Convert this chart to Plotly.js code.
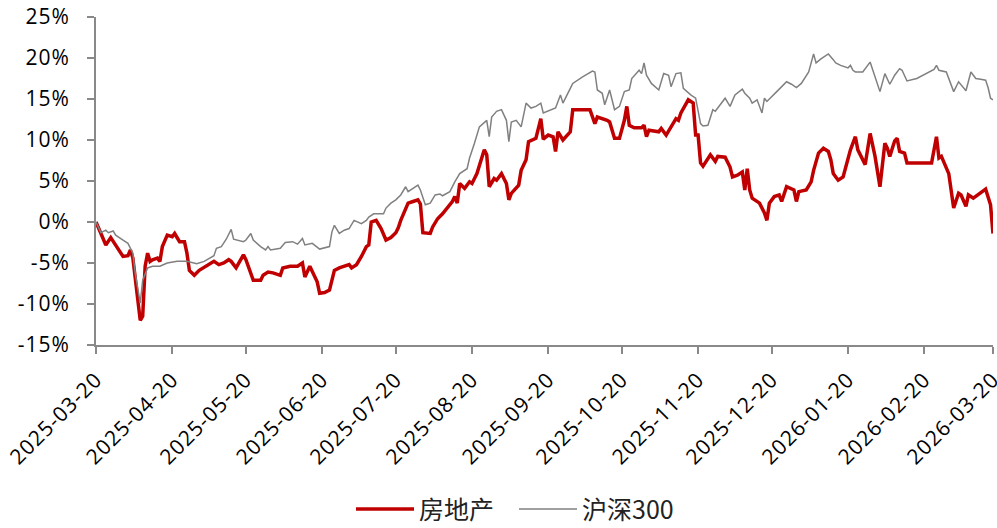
<!DOCTYPE html>
<html>
<head>
<meta charset="utf-8">
<script src="https://cdn.plot.ly/plotly-3.0.1.min.js"></script>
<style>
html,body{margin:0;padding:0;background:#fff;}
#chart{width:997px;height:528px;}
.xtick text, .ytick text {letter-spacing: 1px;}
</style>
</head>
<body>
<div id="chart"></div>
<script>
const seriesNames = ['房地产', '沪深300'];

const fdcDates = ['2025-03-20','2025-03-22','2025-03-24','2025-03-26','2025-03-28','2025-03-31','2025-04-02','2025-04-03','2025-04-04','2025-04-05','2025-04-07','2025-04-08','2025-04-09','2025-04-10','2025-04-11','2025-04-12','2025-04-14','2025-04-15','2025-04-16','2025-04-18','2025-04-20','2025-04-21','2025-04-22','2025-04-23','2025-04-25','2025-04-26','2025-04-27','2025-04-29','2025-05-01','2025-05-05','2025-05-07','2025-05-09','2025-05-11','2025-05-13','2025-05-14','2025-05-16','2025-05-18','2025-05-19','2025-05-20','2025-05-22','2025-05-23','2025-05-26','2025-05-27','2025-05-29','2025-05-31','2025-06-03','2025-06-04','2025-06-07','2025-06-10','2025-06-12','2025-06-13','2025-06-15','2025-06-16','2025-06-18','2025-06-19','2025-06-21','2025-06-23','2025-06-25','2025-06-27','2025-06-29','2025-07-01','2025-07-02','2025-07-04','2025-07-06','2025-07-08','2025-07-09','2025-07-10','2025-07-12','2025-07-14','2025-07-16','2025-07-18','2025-07-20','2025-07-21','2025-07-22','2025-07-24','2025-07-25','2025-07-27','2025-07-29','2025-07-30','2025-07-31','2025-08-03','2025-08-04','2025-08-06','2025-08-08','2025-08-12','2025-08-13','2025-08-14','2025-08-15','2025-08-17','2025-08-19','2025-08-20','2025-08-22','2025-08-25','2025-08-26','2025-08-27','2025-08-29','2025-08-30','2025-09-01','2025-09-03','2025-09-04','2025-09-05','2025-09-08','2025-09-09','2025-09-11','2025-09-12','2025-09-15','2025-09-17','2025-09-18','2025-09-20','2025-09-22','2025-09-23','2025-09-24','2025-09-26','2025-09-29','2025-09-30','2025-10-07','2025-10-09','2025-10-10','2025-10-14','2025-10-15','2025-10-17','2025-10-19','2025-10-21','2025-10-22','2025-10-23','2025-10-25','2025-10-28','2025-10-29','2025-10-30','2025-10-31','2025-11-04','2025-11-05','2025-11-07','2025-11-09','2025-11-11','2025-11-12','2025-11-13','2025-11-16','2025-11-18','2025-11-19','2025-11-20','2025-11-21','2025-11-22','2025-11-25','2025-11-26','2025-11-27','2025-11-28','2025-12-01','2025-12-03','2025-12-04','2025-12-06','2025-12-08','2025-12-09','2025-12-10','2025-12-11','2025-12-12','2025-12-15','2025-12-17','2025-12-18','2025-12-19','2025-12-21','2025-12-23','2025-12-24','2025-12-26','2025-12-29','2025-12-30','2025-12-31','2026-01-03','2026-01-05','2026-01-06','2026-01-08','2026-01-10','2026-01-12','2026-01-13','2026-01-14','2026-01-16','2026-01-18','2026-01-20','2026-01-21','2026-01-23','2026-01-24','2026-01-27','2026-01-29','2026-01-31','2026-02-02','2026-02-04','2026-02-05','2026-02-06','2026-02-08','2026-02-09','2026-02-10','2026-02-12','2026-02-13','2026-02-23','2026-02-25','2026-02-26','2026-02-27','2026-03-02','2026-03-03','2026-03-04','2026-03-06','2026-03-07','2026-03-09','2026-03-10','2026-03-12','2026-03-15','2026-03-17','2026-03-19','2026-03-20'];
const fdcValues = [0,-1.3,-2.8,-1.9,-2.8,-4.2,-4.1,-3.4,-4.4,-7,-12,-11.5,-5.4,-3.8,-4.8,-4.6,-4.4,-4.8,-3,-1.6,-1.8,-1.4,-2,-2.4,-2.4,-3.8,-5.9,-6.5,-5.9,-5.2,-4.8,-5.2,-5,-4.6,-4.8,-5.6,-4.6,-4,-4.6,-6.3,-7.1,-7.1,-6.5,-6.1,-6.2,-6.5,-5.6,-5.4,-5.4,-5,-6.7,-5.4,-6.1,-7.3,-8.7,-8.6,-8.3,-5.9,-5.6,-5.4,-5.2,-5.6,-5.2,-4.2,-3,-2.8,0,0.2,-0.8,-2.2,-1.9,-1.3,-0.7,0.2,1.5,2.3,2.5,2.7,2.2,-1.3,-1.4,-0.6,0.4,1,2.5,3.1,2.3,4.7,4.1,4.9,4.7,5.9,8.8,8.2,4.3,5.3,5.1,5.9,4.7,2.7,3.5,4.5,6.3,7.6,9.8,10.2,12.6,10.1,10.6,10.4,8.6,11,10,11,13.7,13.7,12,12.8,12.4,12.2,10.2,10.2,12.4,14.1,11.8,11.5,11.5,11.8,10.4,11.2,11,11.4,10.6,11.6,12.6,12.4,13.3,14.9,14.5,10.6,10.6,7.2,6.8,8.2,7.8,7.4,8,7.9,6.7,5.5,5.7,6.1,3.9,6.5,3.9,2.9,2.3,1.1,0.2,2.3,3.1,3.3,2.5,4.3,3.9,2.5,3.7,3.9,4.9,6.3,8.4,9,8.6,7.6,5.9,5.1,5.5,7.6,8.8,10.4,8.8,7,10.8,8,4.3,9.6,9,8,9.9,10.2,8.6,8.4,7.2,7.2,10.4,7.8,8,5.9,3.9,1.7,3.5,3.3,1.9,3.3,2.9,3.5,4,2.1,-1.4];

const hsDates = ['2025-03-20','2025-03-22','2025-03-24','2025-03-25','2025-03-27','2025-03-28','2025-03-31','2025-04-02','2025-04-04','2025-04-05','2025-04-07','2025-04-08','2025-04-10','2025-04-12','2025-04-15','2025-04-18','2025-04-22','2025-04-26','2025-04-30','2025-05-03','2025-05-07','2025-05-08','2025-05-10','2025-05-12','2025-05-14','2025-05-15','2025-05-19','2025-05-20','2025-05-22','2025-05-23','2025-05-26','2025-05-28','2025-05-29','2025-05-30','2025-06-03','2025-06-05','2025-06-08','2025-06-10','2025-06-12','2025-06-13','2025-06-16','2025-06-19','2025-06-23','2025-06-24','2025-06-25','2025-06-27','2025-06-29','2025-07-01','2025-07-03','2025-07-06','2025-07-08','2025-07-09','2025-07-11','2025-07-15','2025-07-16','2025-07-18','2025-07-20','2025-07-22','2025-07-24','2025-07-25','2025-07-29','2025-07-30','2025-08-01','2025-08-03','2025-08-05','2025-08-07','2025-08-08','2025-08-11','2025-08-13','2025-08-15','2025-08-18','2025-08-19','2025-08-21','2025-08-23','2025-08-26','2025-08-27','2025-08-28','2025-08-30','2025-09-01','2025-09-03','2025-09-04','2025-09-05','2025-09-07','2025-09-09','2025-09-11','2025-09-13','2025-09-15','2025-09-17','2025-09-18','2025-09-21','2025-09-23','2025-09-25','2025-09-26','2025-09-29','2025-09-30','2025-10-04','2025-10-08','2025-10-09','2025-10-10','2025-10-12','2025-10-13','2025-10-15','2025-10-17','2025-10-19','2025-10-21','2025-10-23','2025-10-24','2025-10-27','2025-10-28','2025-10-29','2025-10-30','2025-11-01','2025-11-04','2025-11-06','2025-11-08','2025-11-09','2025-11-11','2025-11-13','2025-11-14','2025-11-17','2025-11-19','2025-11-21','2025-11-22','2025-11-24','2025-11-26','2025-11-27','2025-11-30','2025-12-01','2025-12-03','2025-12-05','2025-12-08','2025-12-09','2025-12-11','2025-12-12','2025-12-14','2025-12-16','2025-12-17','2025-12-18','2025-12-22','2025-12-26','2025-12-28','2025-12-30','2026-01-01','2026-01-04','2026-01-06','2026-01-07','2026-01-09','2026-01-12','2026-01-14','2026-01-15','2026-01-17','2026-01-20','2026-01-21','2026-01-22','2026-01-23','2026-01-26','2026-01-29','2026-01-31','2026-02-02','2026-02-04','2026-02-06','2026-02-08','2026-02-10','2026-02-11','2026-02-13','2026-02-17','2026-02-24','2026-02-25','2026-02-26','2026-03-01','2026-03-04','2026-03-06','2026-03-09','2026-03-11','2026-03-13','2026-03-15','2026-03-17','2026-03-18','2026-03-19','2026-03-20'];
const hsValues = [0,-1.3,-1,-1.3,-1.1,-1.6,-2.2,-2.6,-3.8,-6.3,-9.9,-7.1,-5.6,-5.4,-5.4,-5,-4.8,-4.8,-5.1,-4.8,-4.1,-3.2,-3,-2.1,-0.9,-2.1,-2.4,-2.2,-1.4,-2.2,-3,-3.4,-3,-3.4,-3.2,-2.5,-2.4,-2.7,-2,-2.8,-2.6,-3.3,-3,-1.2,-0.4,-1.4,-1,-0.8,0.2,-0.2,0.2,0.6,1,1,1.7,2.3,2.7,3.3,4.3,3.7,4.5,3.9,2.1,2.3,3.3,3.4,3.2,3.7,4.9,5.9,6.5,7.8,9.6,11.6,12.4,10.4,12.8,13.5,13.7,12.4,9.8,12.2,12.4,11.6,14.5,13.9,14.1,14.5,13.3,13.7,13.9,15.5,14.5,16.3,16.9,17.7,18.4,18.3,16.1,15.7,14.3,16.1,13.7,14.1,15.9,16.1,17.5,18.5,18.1,19.4,17.9,16.9,16.1,18.1,17.9,16.5,18.1,18.2,16.3,15.5,15.1,12,11.7,11.8,13.7,13.5,14.7,15.1,14.1,15.5,16.2,15.7,15.1,14.5,14.9,13.3,15.1,14.7,15.9,17.1,16.8,16.4,16.9,18.3,20.5,19.4,19.9,20.5,19.8,19.4,19.1,18.8,19.1,18.5,18.3,18.3,19.5,17.7,15.9,18.1,16.8,17.9,18.7,18.5,17.2,17.5,18.6,19.1,18.5,18.3,15.9,17.1,16,18.3,17.5,17.4,17.3,16.4,15.1,14.9];

const xTickLabels = ['2025-03-20','2025-04-20','2025-05-20','2025-06-20','2025-07-20','2025-08-20','2025-09-20','2025-10-20','2025-11-20','2025-12-20','2026-01-20','2026-02-20','2026-03-20'];
const yTickValues = [-15,-10,-5,0,5,10,15,20,25];
const yTickLabels = yTickValues.map(v => v + '%');

const traces = [
  {x: fdcDates, y: fdcValues, name: seriesNames[0], type: 'scatter', mode: 'lines',
   line: {color: '#C00000', width: 3.5, shape: 'linear'}},
  {x: hsDates, y: hsValues, name: seriesNames[1], type: 'scatter', mode: 'lines',
   line: {color: '#808080', width: 1.5, shape: 'linear'}}
];

const axisFont = {family: 'Open Sans, Noto Sans CJK SC, sans-serif', size: 21, color: '#000'};

const layout = {
  width: 997, height: 528,
  margin: {l: 96, r: 4, t: 17, b: 183, pad: 0, autoexpand: false},
  paper_bgcolor: '#fff', plot_bgcolor: '#fff',
  showlegend: true,
  legend: {orientation: 'h', x: 0.466, xanchor: 'center', y: -0.571, yanchor: 'bottom',
    font: {family: 'Noto Sans CJK SC, sans-serif', size: 25, color: '#222'},
    itemwidth: 58, entrywidth: 90, entrywidthmode: 'pixels',
    traceorder: 'normal', tracegroupgap: 0},
  xaxis: {type: 'date', range: [xTickLabels[0], xTickLabels[xTickLabels.length-1]],
    tickmode: 'array', tickvals: xTickLabels, ticktext: xTickLabels, tickangle: -45,
    showgrid: false, zeroline: false, showline: true, linecolor: '#898989', linewidth: 2,
    ticks: 'outside', ticklen: 7, tickwidth: 2, tickcolor: '#898989',
    ticklabelstandoff: 5, ticklabeloverflow: 'allow', automargin: false,
    tickfont: axisFont, fixedrange: true},
  yaxis: {range: [-15, 25], tickmode: 'array', tickvals: yTickValues, ticktext: yTickLabels,
    showgrid: false, zeroline: false, showline: true, linecolor: '#898989', linewidth: 2,
    ticks: 'outside', ticklen: 7, tickwidth: 2, tickcolor: '#898989',
    ticklabelstandoff: 13, ticklabeloverflow: 'allow', automargin: false,
    tickfont: axisFont, fixedrange: true}
};

Plotly.newPlot('chart', traces, layout, {displayModeBar: false, staticPlot: true});
</script>
</body>
</html>
